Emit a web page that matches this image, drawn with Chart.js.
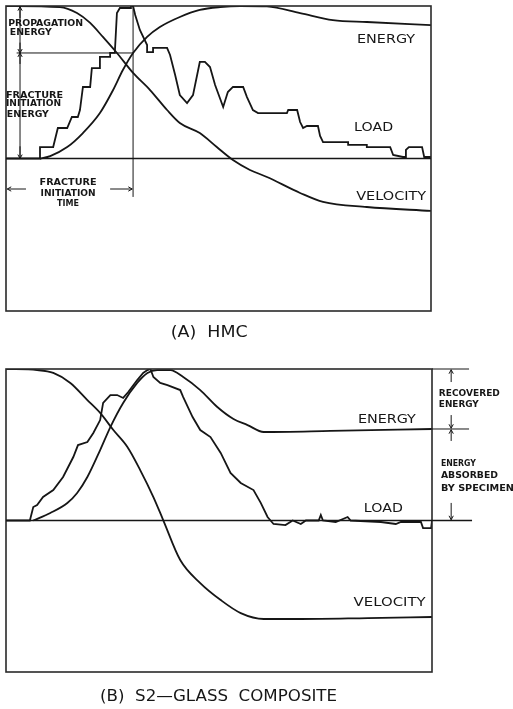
<!DOCTYPE html>
<html>
<head>
<meta charset="utf-8">
<script src="https://cdn.jsdelivr.net/npm/chart.js@4.4.1/dist/chart.umd.min.js"></script>
<style>
  body { margin: 0; background: #fff; }
  canvas { position: absolute; left: 0; }
</style>
</head>
<body>
<canvas id="hmc" width="513" height="350" style="top:0"></canvas>
<canvas id="glass" width="513" height="359" style="top:350px"></canvas>
<script>
// time runs 0..100 across each frame, signal -100..100 with the load baseline at 0
// (A) HMC
const hmcLoad = [
  [0, 0], [8, 0], [8, 7.5], [11.1, 7.5], [12.2, 20], [14.4, 20], [15.5, 27.2], [16.9, 27.2],
  [17.4, 31.8], [18.1, 46.9], [19.8, 46.9], [20.2, 59.3], [22.1, 59.3], [22.1, 66.6], [24.5, 66.6],
  [24.5, 69.2], [25.6, 69.2], [26.1, 95.4], [26.8, 98.7], [29.2, 98.7], [29.4, 100], [29.9, 100],
  [30.4, 94.1], [31.5, 84.3], [33.2, 74.4], [33.2, 69.8], [34.6, 69.8], [34.6, 72.5], [37.9, 72.5],
  [38.6, 67.9], [39.8, 54.8], [40.9, 41.6], [42.6, 36.4], [44.0, 41.6], [45.6, 63.3], [46.8, 63.3],
  [48.0, 60.0], [49.2, 48.2], [51.1, 33.8], [52.2, 43.6], [53.4, 46.9], [55.8, 46.9], [56.7, 40.3],
  [58.1, 31.8], [59.3, 29.8], [66.1, 29.8], [66.4, 31.8], [68.5, 31.8], [69.2, 23.9], [69.9, 20.0],
  [70.8, 21.3], [73.4, 21.3], [73.9, 14.8], [74.6, 10.8], [80.5, 10.8], [80.5, 8.9], [84.9, 8.9],
  [84.9, 7.5], [90.4, 7.5], [91.1, 2.3], [93.4, 1.0], [94.0, 1.0], [94.1, 5.6], [94.8, 7.5],
  [97.9, 7.5], [98.4, 1.0], [100, 1.0]
];
const hmcEnergy = [
  [8, 0], [10.4, 1.6], [14.4, 7.5], [18.1, 16.7], [22.1, 29.8], [25.2, 44.9], [27.5, 58.0],
  [29.9, 69.2], [33.2, 79.7], [36.2, 86.2], [40.9, 92.8], [45.6, 97.4], [50.4, 99.3], [55.1, 100],
  [61.4, 99.7], [69.2, 95.4], [76.9, 90.8], [84.9, 89.5], [100, 87.5]
];
const hmcVelocity = [
  [0, 100], [12.7, 99.3], [16.7, 95.4], [19.8, 88.9], [22.8, 79.7], [26.1, 69.2], [29.9, 56.1],
  [33.9, 44.9], [37.9, 31.8], [40.9, 23.3], [45.6, 16.7], [49.6, 7.5], [53.4, -1.0], [57.4, -7.5],
  [61.4, -12.1], [69.2, -22.6], [74.6, -28.5], [84.9, -31.8], [100, -34.4]
];

// (B) S2-glass composite
const glassLoad = [
  [0, 0], [5.6, 0], [6.4, 8.9], [7.3, 10.2], [8.7, 15.5], [11.1, 20.1], [13.4, 28.7], [15.8, 41.9],
  [16.9, 49.8], [19.1, 51.8], [20.5, 57.8], [22.1, 66.3], [22.8, 77.6], [24.5, 82.8], [26.1, 82.8],
  [27.5, 80.9], [28.7, 84.8], [30.8, 92.7], [32.2, 97.4], [33.2, 99.3], [33.9, 100], [34.6, 94.7],
  [36.2, 90.8], [37.9, 89.4], [40.9, 86.1], [41.6, 81.5], [43.8, 68.3], [45.6, 59.7], [48.0, 55.1],
  [50.4, 44.6], [52.7, 31.4], [55.1, 24.8], [58.1, 20.1], [59.8, 11.6], [61.4, 2.3], [62.1, 0],
  [62.8, -2.3], [65.6, -3.0], [67.3, 0], [69.2, -2.3], [70.4, 0], [73.4, 0], [73.9, 3.6], [74.4, 0],
  [77.4, -1.0], [80.2, 2.3], [80.9, 0], [88.0, -1.0], [91.5, -2.3], [92.7, -1.0], [97.4, -1.0],
  [97.9, -5.0], [99.8, -5.0], [100, 0]
];
const glassEnergy = [
  [6.4, 0], [10.4, 5.0], [14.4, 11.6], [16.7, 18.2], [19.1, 28.7], [22.1, 46.5], [24.5, 61.7],
  [27.5, 77.6], [30.8, 90.8], [33.2, 97.4], [35.5, 99.3], [38.6, 99.3], [41.6, 94.7], [45.6, 86.1],
  [49.6, 74.9], [53.4, 67.0], [56.7, 63.0], [60.5, 58.4], [76.2, 59.1], [100, 60.4]
];
const glassVelocity = [
  [0, 100], [7.3, 99.3], [11.1, 97.4], [15.1, 90.8], [19.1, 79.5], [22.1, 71.0], [25.2, 59.7],
  [28.5, 48.5], [31.5, 33.3], [34.6, 15.5], [36.9, 0.3], [40.9, -26.1], [45.6, -41.3], [50.4, -52.5],
  [55.1, -61.1], [60.5, -65.0], [69.2, -65.0], [84.9, -64.4], [100, -63.7]
];

const INK = "#161616";
const SMALL = "bold 9px 'DejaVu Sans Condensed', 'DejaVu Sans', sans-serif";
const LABEL = "13px 'DejaVu Sans', sans-serif";
const CAPTION = "16px 'DejaVu Sans', sans-serif";

function curve(label, pairs, smooth) {
  return {
    label: label,
    data: pairs.map(([x, y]) => ({ x, y })),
    borderColor: INK,
    borderWidth: 1.8,
    pointRadius: 0,
    fill: false,
    tension: smooth ? 0.4 : 0,
    cubicInterpolationMode: smooth ? "monotone" : "default",
  };
}

function valueAt(pairs, x) {
  for (let i = 0; i < pairs.length - 1; i++) {
    const [x0, y0] = pairs[i], [x1, y1] = pairs[i + 1];
    if (x >= x0 && x <= x1) return x1 === x0 ? y1 : y0 + (y1 - y0) * (x - x0) / (x1 - x0);
  }
  return pairs[pairs.length - 1][1];
}

function tools(chart) {
  const ctx = chart.ctx;
  const X = (v) => chart.scales.x.getPixelForValue(v);
  const Y = (v) => chart.scales.y.getPixelForValue(v);
  ctx.strokeStyle = INK;
  ctx.fillStyle = INK;
  const t = {
    frame() {
      const a = chart.chartArea;
      ctx.lineWidth = 1.6;
      ctx.strokeStyle = "#2a2a2a";
      ctx.strokeRect(a.left, a.top, a.right - a.left, a.bottom - a.top);
      ctx.strokeStyle = INK;
    },
    line(x1, y1, x2, y2, w) {
      ctx.lineWidth = w || 1;
      ctx.beginPath();
      ctx.moveTo(X(x1), Y(y1));
      ctx.lineTo(X(x2), Y(y2));
      ctx.stroke();
    },
    arrow(x1, y1, x2, y2) {
      t.line(x1, y1, x2, y2, 1);
      const ax = X(x1), ay = Y(y1), bx = X(x2), by = Y(y2);
      const ang = Math.atan2(by - ay, bx - ax), h = 4.5;
      ctx.beginPath();
      ctx.moveTo(bx - h * Math.cos(ang - 0.5), by - h * Math.sin(ang - 0.5));
      ctx.lineTo(bx, by);
      ctx.lineTo(bx - h * Math.cos(ang + 0.5), by - h * Math.sin(ang + 0.5));
      ctx.stroke();
    },
    text(str, x, y, width, font, align) {
      ctx.save();
      ctx.font = font;
      ctx.textBaseline = "middle";
      const w = ctx.measureText(str).width;
      const left = align === "center" ? X(x) - width / 2 : X(x);
      ctx.translate(left, Y(y));
      ctx.scale(width / w, 1);
      ctx.fillText(str, 0, 0);
      ctx.restore();
    },
  };
  return t;
}

const peakLoad = Math.max(...hmcLoad.map((p) => p[1]));
const tInit = hmcLoad.filter((p) => p[1] === peakLoad).pop()[0];
const eInit = valueAt(hmcEnergy, tInit);
const eFinal = glassEnergy[glassEnergy.length - 1][1];

const hmcDecor = {
  id: "hmcDecor",
  afterDatasetsDraw(chart) {
    const d = tools(chart);
    d.frame();
    d.line(0, 0, 100, 0, 1.3);
    // fracture initiation marker
    d.line(tInit, 100, tInit, -25.2);
    d.line(2.5, eInit, tInit, eInit);
    // energy dimension line
    d.line(3.3, 100, 3.3, 0);
    d.arrow(3.3, 92, 3.3, 99.5);
    d.arrow(3.3, 76, 3.3, eInit);
    d.arrow(3.3, 62, 3.3, eInit);
    d.arrow(3.3, 8, 3.3, 0);
    d.line(2.3, 0, 4.3, 0);
    d.text("PROPAGATION", 0.5, 88.2, 75, SMALL);
    d.text("ENERGY", 0.9, 82.3, 42, SMALL);
    d.text("FRACTURE", 0, 41.0, 57, SMALL);
    d.text("INITIATION", 0, 35.7, 55, SMALL);
    d.text("ENERGY", 0.2, 28.5, 42, SMALL);
    // fracture initiation time
    d.arrow(4.7, -20, 0.3, -20);
    d.arrow(24.5, -20, tInit - 0.2, -20);
    d.text("FRACTURE", 14.6, -16.1, 57, SMALL, "center");
    d.text("INITIATION", 14.6, -23.3, 55, SMALL, "center");
    d.text("TIME", 14.6, -29.8, 22, SMALL, "center");
    // curve labels
    d.text("ENERGY", 82.6, 77.7, 58, LABEL);
    d.text("LOAD", 81.9, 20.0, 39, LABEL);
    d.text("VELOCITY", 82.4, -25.2, 70, LABEL);
    d.text("(A)  HMC", 47.8, -114.4, 77, CAPTION, "center");
  },
};

const glassDecor = {
  id: "glassDecor",
  afterDatasetsDraw(chart) {
    const d = tools(chart);
    d.frame();
    d.line(0, 0, 109.4, 0, 1.3);
    // recovered / absorbed energy bracket
    d.line(100, 100, 108.7, 100);
    d.line(100, eFinal, 108.7, eFinal);
    d.arrow(104.5, 91.4, 104.5, 99.5);
    d.arrow(104.5, 69.6, 104.5, eFinal + 0.5);
    d.arrow(104.5, 52.5, 104.5, eFinal - 0.5);
    d.arrow(104.5, 11.6, 104.5, 0.5);
    d.text("RECOVERED", 101.6, 83.5, 61, SMALL);
    d.text("ENERGY", 101.6, 76.2, 40, SMALL);
    d.text("ENERGY", 102.1, 37.3, 35, SMALL);
    d.text("ABSORBED", 102.1, 29.4, 57, SMALL);
    d.text("BY SPECIMEN", 102.1, 20.8, 73, SMALL);
    // curve labels
    d.text("ENERGY", 82.6, 66.3, 58, LABEL);
    d.text("LOAD", 84.0, 7.6, 39, LABEL);
    d.text("VELOCITY", 81.6, -54.5, 72, LABEL);
    d.text("(B)  S2—GLASS  COMPOSITE", 49.9, -116.5, 237, CAPTION, "center");
  },
};

function makeChart(id, datasets, padding, decor) {
  return new Chart(document.getElementById(id), {
    type: "line",
    data: { datasets: datasets },
    options: {
      responsive: false,
      animation: false,
      events: [],
      layout: { padding: padding },
      plugins: { legend: { display: false }, tooltip: { enabled: false } },
      scales: {
        x: { type: "linear", min: 0, max: 100, display: false },
        y: { type: "linear", min: -100, max: 100, display: false },
      },
    },
    plugins: [decor],
  });
}

makeChart("hmc", [
  curve("Load", hmcLoad, false),
  curve("Energy", hmcEnergy, true),
  curve("Velocity", hmcVelocity, true),
], { left: 6, top: 6, right: 82, bottom: 39 }, hmcDecor);

makeChart("glass", [
  curve("Load", glassLoad, false),
  curve("Energy", glassEnergy, true),
  curve("Velocity", glassVelocity, true),
], { left: 6, top: 19, right: 81, bottom: 37 }, glassDecor);
</script>
</body>
</html>
